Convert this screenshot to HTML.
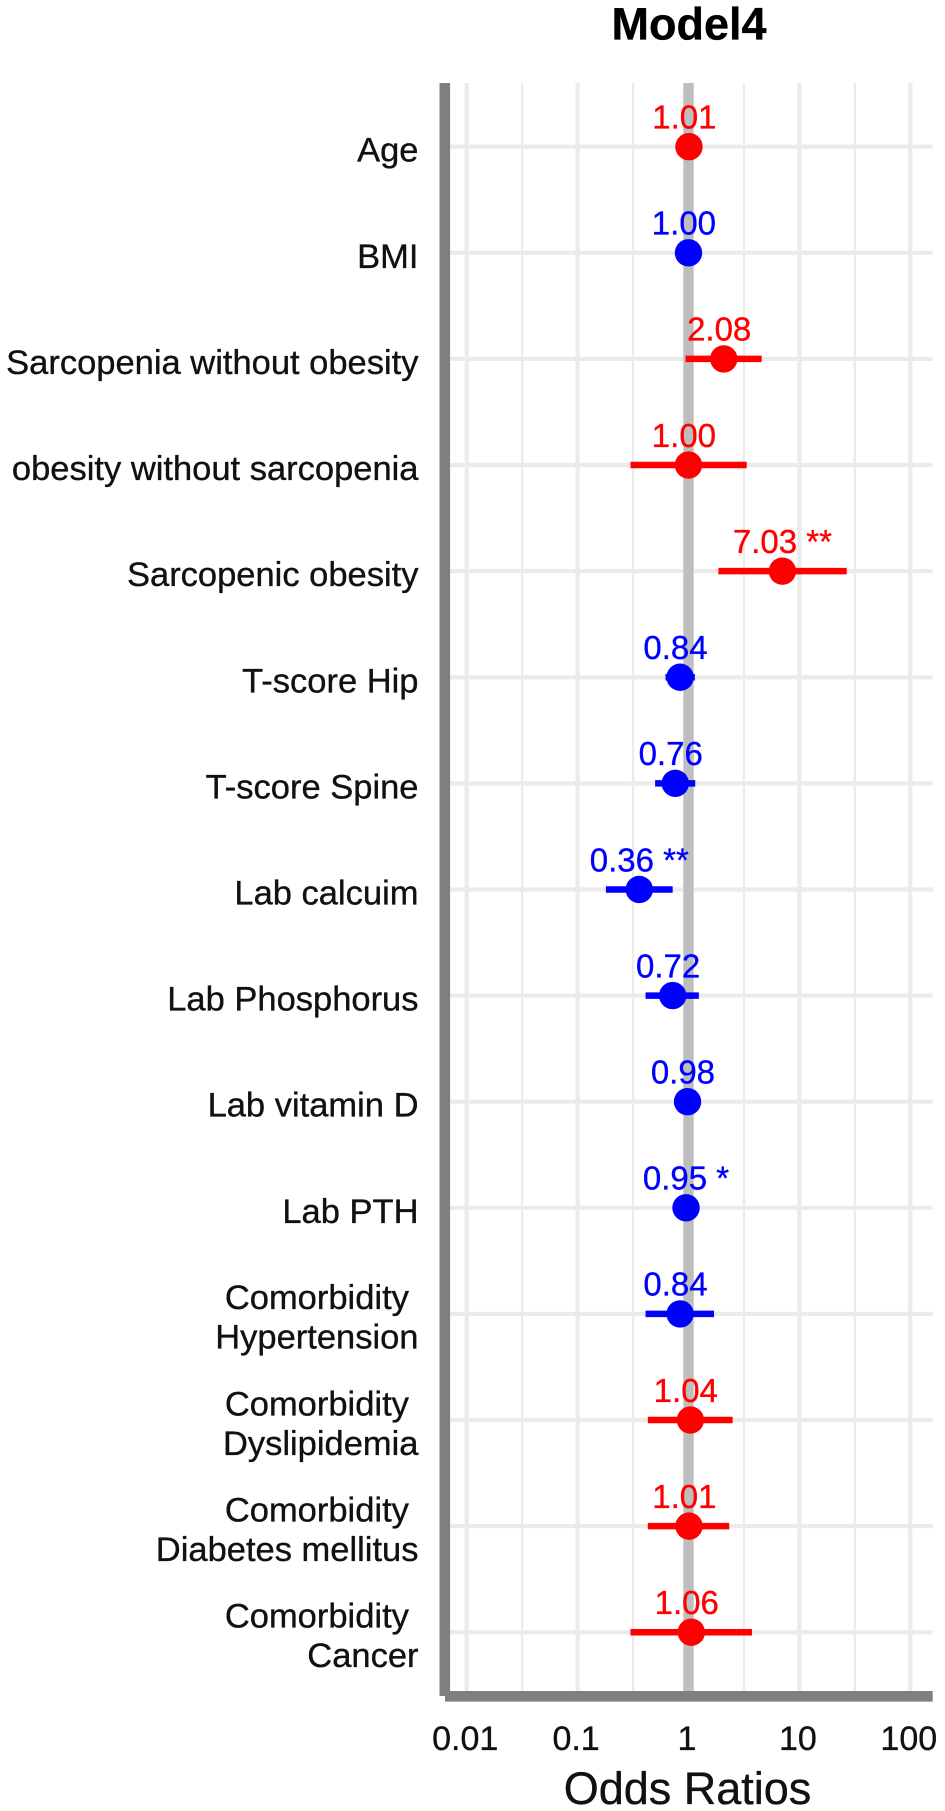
<!DOCTYPE html>
<html lang="en">
<head>
<meta charset="utf-8">
<title>Model4 Odds Ratios</title>
<style>
html,body{margin:0;padding:0;background:#fff;}
svg{display:block;font-family:"Liberation Sans",Arial,sans-serif;}
text{white-space:pre;stroke-width:0.35px;stroke:currentColor;}
</style>
</head>
<body>
<svg id="chart" xmlns="http://www.w3.org/2000/svg" width="945" height="1811" viewBox="0 0 945 1811">
  <rect x="0" y="0" width="945" height="1811" fill="#ffffff"/>
  <text x="689" y="39.5" font-size="45" font-weight="bold" text-anchor="middle" fill="#000" color="#000">Model4</text>
  <g id="grid"></g>
  <g id="marks"></g>
  <g id="ylabels"></g>
  <g id="xlabels"></g>
  <rect x="439.5" y="83" width="10.6" height="1613" fill="#7f7f7f"/>
  <rect x="445" y="1691" width="487.7" height="10.6" fill="#7f7f7f"/>
  <text x="687.5" y="1804" font-size="45" text-anchor="middle" fill="#111" color="#111">Odds Ratios</text>
</svg>
<script>
const categories = [
  ["Age"],
  ["BMI"],
  ["Sarcopenia without obesity"],
  ["obesity without sarcopenia"],
  ["Sarcopenic obesity"],
  ["T-score Hip"],
  ["T-score Spine"],
  ["Lab calcuim"],
  ["Lab Phosphorus"],
  ["Lab vitamin D"],
  ["Lab PTH"],
  ["Comorbidity ", "Hypertension"],
  ["Comorbidity ", "Dyslipidemia"],
  ["Comorbidity ", "Diabetes mellitus"],
  ["Comorbidity ", "Cancer"]
];
const oddsRatios = [1.01, 1.00, 2.08, 1.00, 7.03, 0.84, 0.76, 0.36, 0.72, 0.98, 0.95, 0.84, 1.04, 1.01, 1.06];
const ciLow = [0.98, 0.96, 0.94, 0.30, 1.86, 0.62, 0.50, 0.18, 0.41, 0.94, 0.91, 0.41, 0.43, 0.43, 0.30];
const ciHigh = [1.04, 1.04, 4.57, 3.35, 26.7, 1.14, 1.15, 0.72, 1.24, 1.02, 0.99, 1.70, 2.50, 2.33, 3.74];
const colorGroups = ["pos", "neg", "pos", "pos", "pos", "neg", "neg", "neg", "neg", "neg", "neg", "neg", "pos", "pos", "pos"];
const valueLabels = ["1.01 ", "1.00 ", "2.08 ", "1.00 ", "7.03 **", "0.84 ", "0.76 ", "0.36 **", "0.72 ", "0.98 ", "0.95 *", "0.84 ", "1.04 ", "1.01 ", "1.06 "];
const xTicks = [0.01, 0.1, 1, 10, 100];
const xTickLabels = ["0.01", "0.1", "1", "10", "100"];

const NS = "http://www.w3.org/2000/svg";
const panel = {left: 445, right: 932.7, top: 83, bottom: 1691};
const groupColor = {pos: "#ff0000", neg: "#0000ff"};
function xScale(v) { return 688.5 + 110.9 * Math.log10(v); }
function yScale(i) { return 146.7 + 106.11 * i; }
function make(tag, attrs, parent, content) {
  const el = document.createElementNS(NS, tag);
  for (const k in attrs) el.setAttribute(k, attrs[k]);
  if (content !== undefined) el.textContent = content;
  parent.appendChild(el);
  return el;
}
const grid = document.getElementById("grid");
const marks = document.getElementById("marks");
const ylabels = document.getElementById("ylabels");
const xlabels = document.getElementById("xlabels");

xTicks.forEach(function (t, i) {
  const major = make("line", {x1: xScale(t), x2: xScale(t), y1: panel.top, y2: panel.bottom, stroke: "#ebebeb", "stroke-width": 4.2}, grid);
  
  
  if (i < xTicks.length - 1) {
    const mx = (xScale(t) + xScale(xTicks[i + 1])) / 2;
    const minor = make("line", {x1: mx, x2: mx, y1: panel.top, y2: panel.bottom, stroke: "#ebebeb", "stroke-width": 2.2}, grid);
    
    
  }
  const tick = make("text", {x: xScale(t) - 1.5, y: 1750, "font-size": 34, "text-anchor": "middle", fill: "#111", color: "#111"}, xlabels, xTickLabels[i]);
  
  
});

categories.forEach(function (lines, i) {
  const y = yScale(i);
  const hline = make("line", {x1: panel.left, x2: panel.right, y1: y, y2: y, stroke: "#ebebeb", "stroke-width": 4.2}, grid);
  
  
  const offsets = lines.length === 1 ? [15] : [-4.7, 34.8];
  lines.forEach(function (line, j) {
    const lab = make("text", {x: 418.5, y: y + offsets[j], "font-size": 34.5, "text-anchor": "end", fill: "#111", color: "#111"}, ylabels, line);
    
    
  });
});

const refLine = make("line", {x1: xScale(1), x2: xScale(1), y1: panel.top, y2: panel.bottom, stroke: "#bebebe", "stroke-width": 10.4}, marks);



oddsRatios.forEach(function (or, i) {
  const y = yScale(i);
  const c = groupColor[colorGroups[i]];
  const ci = make("line", {x1: xScale(ciLow[i]), x2: xScale(ciHigh[i]), y1: y, y2: y, stroke: c, "stroke-width": 6.5}, marks);
  
  
  const pt = make("circle", {cx: xScale(or), cy: y, r: 13.7, fill: c}, marks);
  
  
  const val = make("text", {x: xScale(or), y: y - 18.2, "font-size": 33, "text-anchor": "middle", fill: c, color: c}, marks, valueLabels[i]);
  
  
});
</script>
</body>
</html>
